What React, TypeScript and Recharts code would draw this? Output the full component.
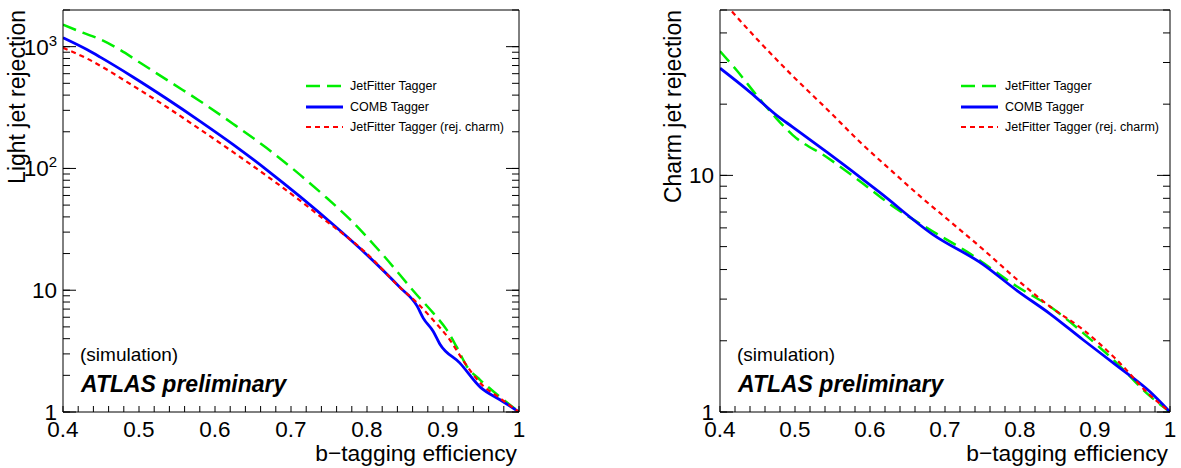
import React from "react";
import { LineChart, Line, XAxis, YAxis, Legend } from "recharts";

const FONT = '"Liberation Sans", Arial, Helvetica, sans-serif';

// light jet rejection vs b-tagging efficiency (left pad)
const lightEffJF = [0.4, 0.426, 0.449, 0.475, 0.501, 0.545, 0.58, 0.624, 0.668, 0.712, 0.742, 0.778, 0.821, 0.866, 0.887, 0.905, 0.918, 0.932, 0.949, 0.975, 1.0];
const lightRejJF = [1514, 1303, 1148, 942, 741, 494, 358, 232, 147, 88.5, 61, 38, 19.5, 9.1, 6.51, 4.72, 3.42, 2.34, 1.83, 1.33, 1];

const lightEffComb = [0.4, 0.432, 0.449, 0.492, 0.537, 0.58, 0.624, 0.668, 0.712, 0.755, 0.8, 0.843, 0.866, 0.874, 0.887, 0.896, 0.922, 0.949, 0.975, 1.0];
const lightRejComb = [1183, 942, 820, 564, 372, 245, 157, 97.5, 58.7, 34.8, 19.5, 10.6, 7.4, 5.9, 4.6, 3.6, 2.53, 1.6, 1.26, 1];

const lightEffJFc = [0.4, 0.432, 0.492, 0.537, 0.58, 0.624, 0.668, 0.709, 0.738, 0.8, 0.843, 0.866, 0.887, 0.909, 0.926, 0.949, 0.975, 1.0];
const lightRejJFc = [979, 796, 478, 318, 210, 136, 86.9, 56.2, 40.6, 19.9, 10.6, 7.87, 5.7, 3.91, 2.68, 1.73, 1.3, 1];

// charm jet rejection vs b-tagging efficiency (right pad)
const charmEffJF = [0.4, 0.423, 0.453, 0.476, 0.497, 0.543, 0.587, 0.627, 0.684, 0.729, 0.796, 0.84, 0.884, 0.929, 0.973, 1.0];
const charmRejJF = [33.5, 27.6, 21.0, 17.3, 14.8, 11.9, 9.43, 7.54, 5.79, 4.76, 3.39, 2.79, 2.16, 1.61, 1.17, 1];

const charmEffComb = [0.4, 0.44, 0.476, 0.497, 0.543, 0.587, 0.613, 0.684, 0.751, 0.796, 0.84, 0.884, 0.929, 0.973, 1.0];
const charmRejComb = [28.4, 22.5, 17.9, 16.0, 12.5, 9.81, 8.47, 5.62, 4.2, 3.26, 2.6, 2.02, 1.57, 1.22, 1];

const charmEffJFc = [0.4, 0.453, 0.497, 0.543, 0.587, 0.631, 0.667, 0.707, 0.751, 0.796, 0.84, 0.884, 0.929, 0.973, 1.0];
const charmRejJFc = [56.2, 36.6, 26.3, 19.0, 13.8, 10.3, 8.15, 6.38, 4.86, 3.63, 2.79, 2.23, 1.66, 1.18, 1];

// axes
const X_TICKS = [0.4, 0.42, 0.44, 0.46, 0.48, 0.5, 0.52, 0.54, 0.56, 0.58, 0.6, 0.62, 0.64, 0.66, 0.68, 0.7, 0.72, 0.74, 0.76, 0.78, 0.8, 0.82, 0.84, 0.86, 0.88, 0.9, 0.92, 0.94, 0.96, 0.98, 1.0];
const X_MAJOR = [0.4, 0.5, 0.6, 0.7, 0.8, 0.9, 1.0];
const X_LABELS = ["0.4", "0.5", "0.6", "0.7", "0.8", "0.9", "1"];

const LIGHT_Y_TICKS = [1, 2, 3, 4, 5, 6, 7, 8, 9, 10, 20, 30, 40, 50, 60, 70, 80, 90, 100, 200, 300, 400, 500, 600, 700, 800, 900, 1000, 2000];
const LIGHT_Y_MAJOR = [1, 10, 100, 1000];
const LIGHT_Y_LABELS = ["1", "10", "10^2", "10^3"];

const CHARM_Y_TICKS = [1, 2, 3, 4, 5, 6, 7, 8, 9, 10, 20, 30, 40, 50];
const CHARM_Y_MAJOR = [1, 10];
const CHARM_Y_LABELS = ["1", "10"];

const SERIES = [
  { name: "JetFitter Tagger", color: "#00ee00", width: 2.5, dash: "14 7" },
  { name: "COMB Tagger", color: "#0000ff", width: 2.8, dash: undefined },
  { name: "JetFitter Tagger (rej. charm)", color: "#ff0000", width: 2.2, dash: "5 4" },
];

const zip = (xs: number[], ys: number[]) => xs.map((x, i) => ({ x, y: ys[i] }));
const isIn = (list: number[], v: number) => list.findIndex((m) => Math.abs(m - v) < 1e-9);

const BLACK = { stroke: "#000", strokeWidth: 1 };
const Blank = () => <g />;

const XLabel = (props: any) => {
  const { x, y, payload } = props;
  const idx = isIn(X_MAJOR, payload.value);
  if (idx < 0) return <g />;
  return (
    <text x={x} y={y + 25} textAnchor="middle" fontSize={22.5} fontFamily={FONT} fill="#000">
      {X_LABELS[idx]}
    </text>
  );
};

const makeYLabel = (majors: number[], labels: string[]) => (props: any) => {
  const { x, y, payload } = props;
  const idx = isIn(majors, payload.value);
  if (idx < 0) return <g />;
  const parts = labels[idx].split("^");
  return (
    <text x={x - 6} y={y + 8} textAnchor="end" fontSize={22.5} fontFamily={FONT} fill="#000">
      <tspan>{parts[0]}</tspan>
      {parts[1] && (
        <tspan fontSize={15} dy={-9}>
          {parts[1]}
        </tspan>
      )}
    </text>
  );
};

const LegendBox = () => (
  <div style={{ fontFamily: FONT, fontSize: 12.5, color: "#000" }}>
    {SERIES.map((s) => (
      <div key={s.name} style={{ display: "flex", alignItems: "center", height: 20.7 }}>
        <svg width={37} height={6}>
          <line x1={0} y1={3} x2={37} y2={3} stroke={s.color} strokeWidth={s.width} strokeDasharray={s.dash} />
        </svg>
        <span style={{ marginLeft: 7, whiteSpace: "nowrap" }}>{s.name}</span>
      </div>
    ))}
  </div>
);

interface PadProps {
  left: number;
  width: number;
  yAxisWidth: number;
  rightMargin: number;
  yDomain: [number, number];
  yTicks: number[];
  yMajor: number[];
  yLabels: string[];
  series: { x: number; y: number }[][];
  yTitle: string;
  yTitleX: number;
  legendLeft: number;
}

const Pad = (p: PadProps) => {
  const plotRight = p.width - p.rightMargin;
  const plotLeft = p.yAxisWidth;
  const xCommon = { type: "number" as const, domain: [0.4, 1] as [number, number], interval: 0 as const, allowDataOverflow: true, tickLine: BLACK };
  const yCommon = { type: "number" as const, scale: "log" as const, domain: p.yDomain, interval: 0 as const, allowDataOverflow: true, tickLine: BLACK };
  return (
    <div style={{ position: "absolute", left: p.left, top: 0, width: p.width, height: 468 }}>
      <LineChart width={p.width} height={468} margin={{ top: 9, right: p.rightMargin - 1, bottom: 0, left: 0 }}>
        {/* frame axes: negative tick size draws the minor ticks inward */}
        <XAxis {...xCommon} dataKey="x" ticks={X_TICKS} height={56} tickSize={-6} tickMargin={6} tick={XLabel} axisLine={BLACK} />
        <XAxis {...xCommon} xAxisId="top" orientation="top" ticks={X_TICKS} height={1} tickSize={-6} tickMargin={6} tick={Blank} axisLine={BLACK} />
        <YAxis {...yCommon} ticks={p.yTicks} width={p.yAxisWidth} tickSize={-7} tickMargin={7} tick={makeYLabel(p.yMajor, p.yLabels)} axisLine={BLACK} />
        <YAxis {...yCommon} yAxisId="right" orientation="right" ticks={p.yTicks} width={1} tickSize={-7} tickMargin={7} tick={Blank} axisLine={BLACK} />
        {/* mirrored axes (no layout space) for the longer major ticks */}
        <XAxis {...xCommon} xAxisId="bM" mirror ticks={X_MAJOR} height={12} tickSize={12} tick={Blank} axisLine={false} />
        <XAxis {...xCommon} xAxisId="tM" orientation="top" mirror ticks={X_MAJOR} height={12} tickSize={12} tick={Blank} axisLine={false} />
        <YAxis {...yCommon} yAxisId="lM" mirror ticks={p.yMajor} width={13} tickSize={13} tick={Blank} axisLine={false} />
        <YAxis {...yCommon} yAxisId="rM" orientation="right" mirror ticks={p.yMajor} width={13} tickSize={13} tick={Blank} axisLine={false} />
        {SERIES.map((s, i) => (
          <Line
            key={s.name}
            name={s.name}
            data={p.series[i]}
            dataKey="y"
            type="monotone"
            stroke={s.color}
            strokeWidth={s.width}
            strokeDasharray={s.dash}
            dot={false}
            activeDot={false}
            isAnimationActive={false}
          />
        ))}
        <Legend
          layout="vertical"
          align="center"
          verticalAlign="middle"
          content={LegendBox}
          wrapperStyle={{ position: "absolute", left: p.legendLeft, top: 75.6, width: 220 }}
        />
      </LineChart>
      <svg
        width={p.width}
        height={468}
        style={{ position: "absolute", left: 0, top: 0, pointerEvents: "none" }}
        fontFamily={FONT}
      >
        <text transform={`translate(${p.yTitleX},10) rotate(-90)`} textAnchor="end" fontSize={23} fill="#000">
          {p.yTitle}
        </text>
        <text x={plotRight - 2} y={461} textAnchor="end" fontSize={22.8} fill="#000">
          b−tagging efficiency
        </text>
        <text x={plotLeft + 17} y={361} fontSize={19} fill="#000">
          (simulation)
        </text>
        <text x={plotLeft + 18} y={392} fontSize={23} fontWeight="bold" fontStyle="italic" fill="#000">
          ATLAS preliminary
        </text>
      </svg>
    </div>
  );
};

export default function App() {
  const lightSeries = [zip(lightEffJF, lightRejJF), zip(lightEffComb, lightRejComb), zip(lightEffJFc, lightRejJFc)];
  const charmSeries = [zip(charmEffJF, charmRejJF), zip(charmEffComb, charmRejComb), zip(charmEffJFc, charmRejJFc)];
  return (
    <div style={{ position: "absolute", left: 0, top: 0, width: 1181, height: 468, background: "#fff" }}>
      <Pad
        left={0}
        width={560}
        yAxisWidth={63}
        rightMargin={41}
        yDomain={[1, 2000]}
        yTicks={LIGHT_Y_TICKS}
        yMajor={LIGHT_Y_MAJOR}
        yLabels={LIGHT_Y_LABELS}
        series={lightSeries}
        yTitle="Light jet rejection"
        yTitleX={25}
        legendLeft={306}
      />
      <Pad
        left={600}
        width={581}
        yAxisWidth={120}
        rightMargin={11}
        yDomain={[1, 50]}
        yTicks={CHARM_Y_TICKS}
        yMajor={CHARM_Y_MAJOR}
        yLabels={CHARM_Y_LABELS}
        series={charmSeries}
        yTitle="Charm jet rejection"
        yTitleX={81}
        legendLeft={361}
      />
    </div>
  );
}
